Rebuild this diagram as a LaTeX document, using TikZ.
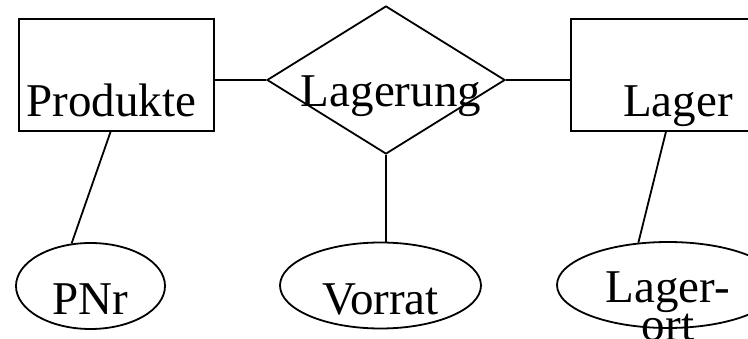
\documentclass[tikz,border=0pt]{standalone}
\usepackage{fontspec}
\setmainfont{Liberation Serif}
\usetikzlibrary{shapes.geometric, positioning}
\tikzset{
  every node/.style={font=\fontsize{47}{36}\selectfont}, % large serif labels
  entity/.style={draw, rectangle, inner sep=0pt, minimum height=112pt, text height=84pt, text depth=0pt}, % label sits low in the box
  relation/.style={draw, diamond, inner sep=0pt, minimum width=238pt, minimum height=148pt, text height=54pt, text depth=0pt},
  attribute/.style={draw, ellipse, inner sep=0pt, minimum height=86pt, text height=58pt, text depth=0pt},
}

\begin{document}
\begin{tikzpicture}[x=1pt, y=-1pt, on grid, line width=1.8pt]
  \clip (0,0) rectangle (748,339);

  \node[entity, minimum width=195pt] (produkte) at (116.5,75) {\makebox[0pt]{Produkte\hspace{10pt}}};
  \node[relation, below right=5pt and 269.5pt of produkte] (lagerung) {\makebox[0pt]{\hspace{10pt}Lagerung}};
  \node[entity, minimum width=214pt, above right=5pt and 292pt of lagerung] (lager) {\makebox[0pt]{Lager}};

  \node[attribute, minimum width=149pt, below left=211pt and 26pt of produkte] (pnr) {PNr};
  \node[attribute, minimum width=201pt, below left=205.5pt and 5.5pt of lagerung] (vorrat) {Vorrat};
  \node[attribute, minimum width=222pt, text height=36pt, below left=210pt and 10pt of lager] (lagerort) {\begin{tabular}[t]{@{}c@{}}Lager-\\ort\end{tabular}};

  \draw (lagerung.west) -- (lagerung.west -| produkte.east);
  \draw (lagerung.east) -- (lagerung.east -| lager.west);
  \draw (produkte.264) -- (pnr.114);
  \draw (lagerung.south) -- (lagerung.south |- vorrat.north);
  \draw (lager.258) -- (lagerort.125);
\end{tikzpicture}
\end{document}
